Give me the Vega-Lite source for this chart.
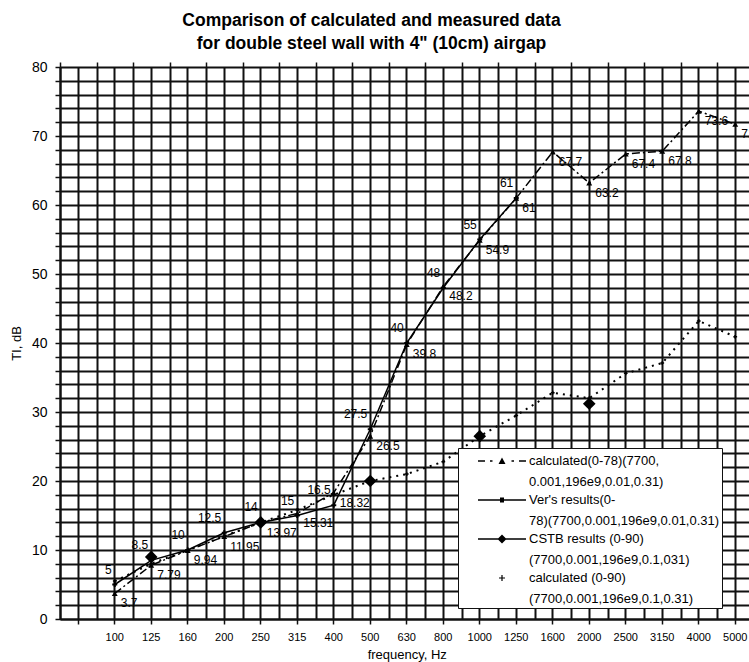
{
  "$schema": "https://vega.github.io/schema/vega-lite/v6.json",
  "width": 689,
  "height": 552,
  "autosize": {"type": "none"},
  "padding": {"left": 60, "top": 67, "right": 0, "bottom": 43},
  "background": "white",
  "title": {
    "text": ["Comparison of calculated and measured data", "for double steel wall with 4\" (10cm) airgap"],
    "font": "Liberation Sans, Arial, sans-serif",
    "fontSize": 17.5,
    "fontWeight": "bold",
    "color": "black",
    "anchor": "middle",
    "dx": -33,
    "offset": 8,
    "lineHeight": 23
  },
  "data": {
    "values": [
      {"series": "calculated(0-78)", "freq": "100", "value": 3.7},
      {"series": "calculated(0-78)", "freq": "125", "value": 7.79},
      {"series": "calculated(0-78)", "freq": "160", "value": 9.94},
      {"series": "calculated(0-78)", "freq": "200", "value": 11.95},
      {"series": "calculated(0-78)", "freq": "250", "value": 13.97},
      {"series": "calculated(0-78)", "freq": "315", "value": 15.31},
      {"series": "calculated(0-78)", "freq": "400", "value": 18.32},
      {"series": "calculated(0-78)", "freq": "500", "value": 26.5},
      {"series": "calculated(0-78)", "freq": "630", "value": 39.8},
      {"series": "calculated(0-78)", "freq": "800", "value": 48.2},
      {"series": "calculated(0-78)", "freq": "1000", "value": 54.9},
      {"series": "calculated(0-78)", "freq": "1250", "value": 61},
      {"series": "calculated(0-78)", "freq": "1600", "value": 67.7},
      {"series": "calculated(0-78)", "freq": "2000", "value": 63.2},
      {"series": "calculated(0-78)", "freq": "2500", "value": 67.4},
      {"series": "calculated(0-78)", "freq": "3150", "value": 67.8},
      {"series": "calculated(0-78)", "freq": "4000", "value": 73.6},
      {"series": "calculated(0-78)", "freq": "5000", "value": 71.7},
      {"series": "Ver's results", "freq": "100", "value": 5},
      {"series": "Ver's results", "freq": "125", "value": 8.5},
      {"series": "Ver's results", "freq": "160", "value": 10},
      {"series": "Ver's results", "freq": "200", "value": 12.5},
      {"series": "Ver's results", "freq": "250", "value": 14},
      {"series": "Ver's results", "freq": "315", "value": 15},
      {"series": "Ver's results", "freq": "400", "value": 16.5},
      {"series": "Ver's results", "freq": "500", "value": 27.5},
      {"series": "Ver's results", "freq": "630", "value": 40},
      {"series": "Ver's results", "freq": "800", "value": 48},
      {"series": "Ver's results", "freq": "1000", "value": 55},
      {"series": "Ver's results", "freq": "1250", "value": 61},
      {"series": "CSTB results", "freq": "125", "value": 9},
      {"series": "CSTB results", "freq": "250", "value": 14},
      {"series": "CSTB results", "freq": "500", "value": 20},
      {"series": "CSTB results", "freq": "1000", "value": 26.5},
      {"series": "CSTB results", "freq": "2000", "value": 31.2},
      {"series": "calculated (0-90)", "freq": "100", "value": 5.5},
      {"series": "calculated (0-90)", "freq": "125", "value": 8},
      {"series": "calculated (0-90)", "freq": "160", "value": 10},
      {"series": "calculated (0-90)", "freq": "200", "value": 12},
      {"series": "calculated (0-90)", "freq": "250", "value": 14},
      {"series": "calculated (0-90)", "freq": "315", "value": 15.8},
      {"series": "calculated (0-90)", "freq": "400", "value": 18},
      {"series": "calculated (0-90)", "freq": "500", "value": 20},
      {"series": "calculated (0-90)", "freq": "630", "value": 21},
      {"series": "calculated (0-90)", "freq": "800", "value": 22.8},
      {"series": "calculated (0-90)", "freq": "1000", "value": 26.5},
      {"series": "calculated (0-90)", "freq": "1250", "value": 29.5},
      {"series": "calculated (0-90)", "freq": "1600", "value": 32.8},
      {"series": "calculated (0-90)", "freq": "2000", "value": 32},
      {"series": "calculated (0-90)", "freq": "2500", "value": 35.6},
      {"series": "calculated (0-90)", "freq": "3150", "value": 37.1},
      {"series": "calculated (0-90)", "freq": "4000", "value": 43.2},
      {"series": "calculated (0-90)", "freq": "5000", "value": 40.9}
    ]
  },
  "encoding": {
    "x": {
      "field": "freq", "type": "nominal", "sort": null,
      "scale": {"type": "band", "domain": [" ", "100", "125", "160", "200", "250", "315", "400", "500", "630", "800", "1000", "1250", "1600", "2000", "2500", "3150", "4000", "5000"], "range": [0, 693.5], "paddingInner": 0, "paddingOuter": 0},
      "axis": null
    },
    "y": {
      "field": "value", "type": "quantitative",
      "scale": {"domain": [0, 80], "nice": false},
      "axis": {
        "values": [0, 2, 4, 6, 8, 10, 12, 14, 16, 18, 20, 22, 24, 26, 28, 30, 32, 34, 36, 38, 40, 42, 44, 46, 48, 50, 52, 54, 56, 58, 60, 62, 64, 66, 68, 70, 72, 74, 76, 78, 80],
        "labelExpr": "datum.value % 10 === 0 ? datum.label : ''",
        "grid": true, "gridColor": "#111", "gridWidth": 2, "gridOpacity": 1,
        "domainColor": "#111", "domainWidth": 2,
        "tickColor": "#111", "tickWidth": 1.5, "tickSize": 5,
        "labelFont": "Liberation Sans, Arial, sans-serif", "labelFontSize": 14, "labelColor": "black", "labelPadding": 8,
        "title": "TI, dB", "titleFont": "Liberation Sans, Arial, sans-serif", "titleFontSize": 13, "titleFontWeight": "normal", "titleColor": "black", "titlePadding": 8
      }
    }
  },
  "layer": [
    {
      "transform": [{"filter": "datum.series === 'calculated(0-78)'"}],
      "mark": {"type": "line", "color": "black", "strokeWidth": 1.5, "strokeDash": [8, 3, 2, 3]},
      "encoding": {
        "x": {
          "field": "freq", "type": "nominal", "sort": null,
          "scale": {"type": "band", "domain": [" ", "100", "125", "160", "200", "250", "315", "400", "500", "630", "800", "1000", "1250", "1600", "2000", "2500", "3150", "4000", "5000"], "range": [0, 693.5], "paddingInner": 0, "paddingOuter": 0},
          "axis": {
            "grid": true, "gridColor": "#111", "gridWidth": 2, "gridOpacity": 1,
            "domainColor": "#111", "domainWidth": 2,
            "tickColor": "#111", "tickWidth": 1.5, "tickSize": 5,
            "labelAngle": 0, "labelFont": "Liberation Sans, Arial, sans-serif", "labelFontSize": 11, "labelColor": "black", "labelPadding": 7,
            "title": "frequency, Hz", "titleFont": "Liberation Sans, Arial, sans-serif", "titleFontSize": 13, "titleFontWeight": "normal", "titleColor": "black", "titlePadding": 6
          }
        }
      }
    },
    {
      "transform": [{"filter": "datum.series === 'calculated(0-78)'"}],
      "mark": {"type": "point", "shape": "triangle-up", "filled": true, "color": "black", "size": 35, "opacity": 1},
      "encoding": {
        "x": {
          "field": "freq", "type": "nominal", "sort": null,
          "scale": {"type": "band", "domain": [" ", "100", "125", "160", "200", "250", "315", "400", "500", "630", "800", "1000", "1250", "1600", "2000", "2500", "3150", "4000", "5000"], "range": [0, 693.5], "paddingInner": 0, "paddingOuter": 0},
          "axis": {
            "tickBand": "extent", "grid": true, "gridColor": "#111", "gridWidth": 2, "gridOpacity": 1,
            "domain": false, "labels": false, "title": null,
            "tickColor": "#111", "tickWidth": 1.5, "tickSize": 5
          }
        }
      }
    },
    {
      "transform": [{"filter": "datum.series === \"Ver's results\""}],
      "mark": {"type": "line", "color": "black", "strokeWidth": 1.5}
    },
    {
      "transform": [{"filter": "datum.series === \"Ver's results\""}],
      "mark": {"type": "point", "shape": "cross", "filled": true, "color": "black", "size": 25, "opacity": 1}
    },
    {
      "transform": [{"filter": "datum.series === 'calculated (0-90)'"}],
      "mark": {"type": "line", "color": "black", "strokeWidth": 2, "strokeDash": [2, 5]}
    },
    {
      "transform": [{"filter": "datum.series === 'calculated (0-90)'"}],
      "mark": {"type": "point", "shape": "cross", "filled": true, "color": "black", "size": 14, "opacity": 1}
    },
    {
      "transform": [{"filter": "datum.series === 'CSTB results'"}],
      "mark": {"type": "point", "shape": "diamond", "filled": true, "color": "black", "size": 160, "opacity": 1}
    },
    {
      "transform": [{"filter": "datum.series === \"Ver's results\""}],
      "mark": {"type": "text", "align": "right", "baseline": "middle", "dx": -3, "dy": -15, "font": "Liberation Sans, Arial, sans-serif", "fontSize": 12, "color": "black"},
      "encoding": {"text": {"field": "value", "type": "quantitative"}}
    },
    {
      "transform": [{"filter": "datum.series === 'calculated(0-78)'"}],
      "mark": {"type": "text", "align": "left", "baseline": "middle", "dx": 6, "dy": 10, "font": "Liberation Sans, Arial, sans-serif", "fontSize": 12, "color": "black"},
      "encoding": {"text": {"field": "value", "type": "quantitative"}}
    },
    {
      "mark": {"type": "point", "opacity": 0, "filled": true, "color": "black"},
      "encoding": {
        "shape": {
          "field": "series", "type": "nominal",
          "scale": {
            "domain": ["calculated(0-78)", "Ver's results", "CSTB results", "calculated (0-90)"],
            "range": [
              "M-2.4,-0.07H-1.7V0.07H-2.4ZM-1.2,-0.07H-0.95V0.07H-1.2ZM-0.35,0.3L0,-0.35L0.35,0.3ZM0.95,-0.07H1.2V0.07H0.95ZM1.7,-0.07H2.4V0.07H1.7Z",
              "M-2.4,-0.07H2.4V0.07H-2.4ZM-0.2,-0.25H0.2V0.25H-0.2Z",
              "M-2.4,-0.07H2.4V0.07H-2.4ZM0,-0.45L0.45,0L0,0.45L-0.45,0Z",
              "M-0.3,-0.06H0.3V0.06H-0.3ZM-0.06,-0.3H0.06V0.3H-0.06Z"
            ]
          },
          "legend": {
            "title": null, "orient": "none", "legendX": 398, "legendY": 381,
            "fillColor": "white", "strokeColor": "#111", "padding": 2,
            "symbolSize": 400, "symbolFillColor": "black", "symbolOpacity": 1, "symbolOffset": 31,
            "labelOffset": 16, "labelFont": "Liberation Sans, Arial, sans-serif", "labelFontSize": 13, "labelColor": "black", "labelLimit": 300, "labelBaseline": "middle", "rowPadding": -2,
            "labelExpr": "datum.label === 'calculated(0-78)' ? ['calculated(0-78)(7700,', '0.001,196e9,0.01,0.31)'] : datum.label === 'CSTB results' ? ['CSTB results (0-90)', '(7700,0.001,196e9,0.1,031)'] : datum.label === 'calculated (0-90)' ? ['calculated (0-90)', '(7700,0.001,196e9,0.1,0.31)'] : ['Ver\\'s results(0-', '78)(7700,0.001,196e9,0.01,0.31)']",
            "encode": {"symbols": {"update": {"opacity": {"value": 1}, "fill": {"value": "black"}, "fillOpacity": {"value": 1}}}}
          }
        }
      }
    }
  ],
  "resolve": {"axis": {"x": "independent"}},
  "config": {
    "view": {"stroke": null},
    "style": {"guide-label": {"lineHeight": 21}}
  }
}
